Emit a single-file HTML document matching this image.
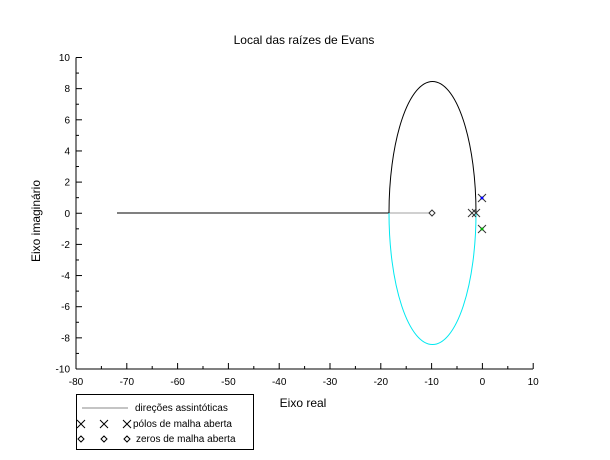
<!DOCTYPE html>
<html><head><meta charset="utf-8"><style>body{margin:0;background:#fff}svg{display:block;font-family:"Liberation Sans",sans-serif}</style></head><body>
<svg width="610" height="460" viewBox="0 0 610 460">
<rect width="610" height="460" fill="#fff"/>
<text x="304" y="44" font-size="12" text-anchor="middle">Local das raízes de Evans</text>
<text x="303" y="407" font-size="12" text-anchor="middle">Eixo real</text>
<text transform="translate(40,221) rotate(-90)" font-size="12" text-anchor="middle">Eixo imaginário</text>
<g stroke="#000" stroke-width="1" fill="none">
<line x1="76" y1="57.5" x2="76" y2="369"/>
<line x1="76" y1="369" x2="533" y2="369"/>
</g>
<g stroke="#000" stroke-width="1" id="ticks"></g>
<g font-size="10" text-anchor="end" id="ylab"></g>
<g font-size="10" text-anchor="middle" id="xlab"></g>
<line x1="117" y1="213" x2="389" y2="213" stroke="#000"/>
<line x1="389" y1="213" x2="430" y2="213" stroke="#a0a0a0"/>
<path d="M389,213 A43.5,131.5 0 0 1 476,213" fill="none" stroke="#000"/>
<path d="M389,213 A43.5,131.5 0 0 0 476,213" fill="none" stroke="#00e8f0"/>
<g stroke="#333" stroke-width="1" fill="none">
<path d="M468,209l8,8M476,209l-8,8"/>
<path d="M472,209l8,8M480,209l-8,8"/>
<path d="M478,194l8,8M486,194l-8,8"/>
<path d="M478,225l8,8M486,225l-8,8"/>
<path d="M432,210l3,3l-3,3l-3,-3z"/>
</g>
<circle cx="482" cy="198" r="1.5" fill="#00f"/>
<circle cx="482" cy="229" r="1.5" fill="#0a0"/>
<rect x="76.5" y="394.5" width="177" height="55" fill="#fff" stroke="#000"/>
<line x1="82" y1="408" x2="128" y2="408" stroke="#888"/>
<g font-size="10"><text x="135" y="411">direções assintóticas</text>
<text x="133" y="427">pólos de malha aberta</text>
<text x="136" y="442">zeros de malha aberta</text></g>
<g stroke="#000" fill="none">
<path d="M77,420l8,8M85,420l-8,8M100,420l8,8M108,420l-8,8M123,420l8,8M131,420l-8,8"/>
<path d="M81,436l3,3l-3,3l-3,-3zM104,436l3,3l-3,3l-3,-3zM127,436l3,3l-3,3l-3,-3z"/>
</g>
<script>
var t=document.getElementById('ticks'),yl=document.getElementById('ylab'),xl=document.getElementById('xlab'),ns="http://www.w3.org/2000/svg";
function L(x1,y1,x2,y2){var l=document.createElementNS(ns,'line');l.setAttribute('x1',x1);l.setAttribute('y1',y1);l.setAttribute('x2',x2);l.setAttribute('y2',y2);t.appendChild(l);}
function T(g,x,y,s){var e=document.createElementNS(ns,'text');e.setAttribute('x',x);e.setAttribute('y',y);e.textContent=s;g.appendChild(e);}
for(var v=-10;v<=10;v++){var y=213.25-v*15.575;L(76,y,v%2==0?82:79,y);if(v%2==0)T(yl,70,y+3.5,v);}
for(var v=-80;v<=10;v+=5){var x=76+(v+80)*5.08;L(x,369,x,v%10==0?363:366);if(v%10==0)T(xl,x,385,v);}
</script>
</svg>
</body></html>
